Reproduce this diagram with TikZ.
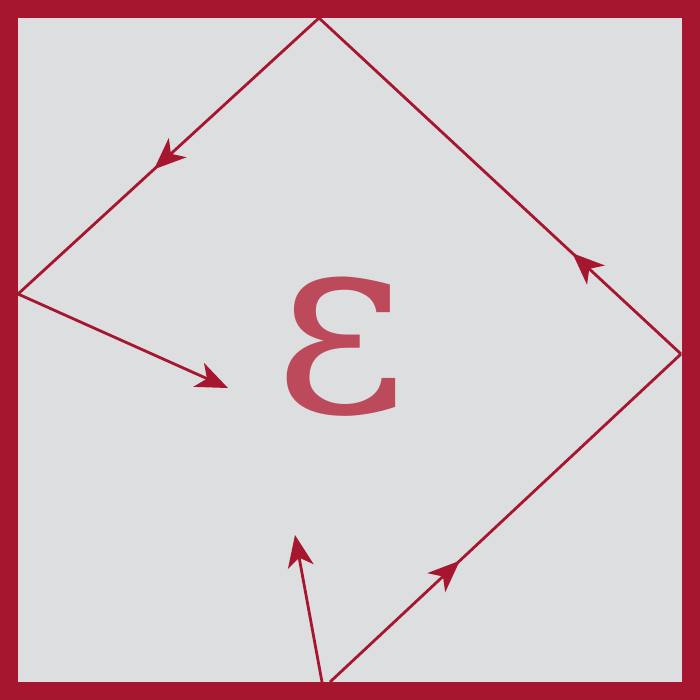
\documentclass[tikz,border=0pt]{standalone}
\usepackage{fontspec}
\newfontfamily\epsfont{DejaVu Serif}
\usetikzlibrary{arrows.meta,decorations.markings}
\definecolor{frame}{HTML}{A6162F}
\definecolor{paper}{HTML}{DDDEDF}
\definecolor{glyph}{HTML}{BC4A5B}
\tikzset{
    ray/.style={frame, line width=0.28mm},
    tip/.tip={Stealth[length=3.2mm, width=2.6mm, inset=0.9mm]},
    midarrow/.style={postaction={decorate}, decoration={markings,
        mark=at position #1 with {\arrow{tip}}}}
}
\begin{document}
\begin{tikzpicture}[x=0.1mm, y=-0.1mm]
    \useasboundingbox (0,0) rectangle (700,700);

    % Box
    \draw[frame, fill=paper, line width=1.8mm] (9,9) rectangle (691,691);

    % Reflection points
    \coordinate (top) at (319,18);
    \coordinate (left) at (18,294);
    \coordinate (right) at (681,354);
    \coordinate (bottom) at (330,682);
    \coordinate (end) at (228,388);
    \coordinate (start) at (322,682);
    \coordinate (up) at (295,535);

    % Label
    \node[glyph, font=\epsfont\fontsize{73}{73}\selectfont] (eps) at (341,347) {ε};

    % Rays
    \draw[ray, midarrow=0.37] (bottom) -- (right);
    \draw[ray, midarrow=0.30] (right) -- (top);
    \draw[ray, midarrow=0.55] (top) -- (left);
    \draw[ray, -{tip}] (left) -- (end);
    \draw[ray, -{tip}] (start) -- (up);
\end{tikzpicture}
\end{document}
